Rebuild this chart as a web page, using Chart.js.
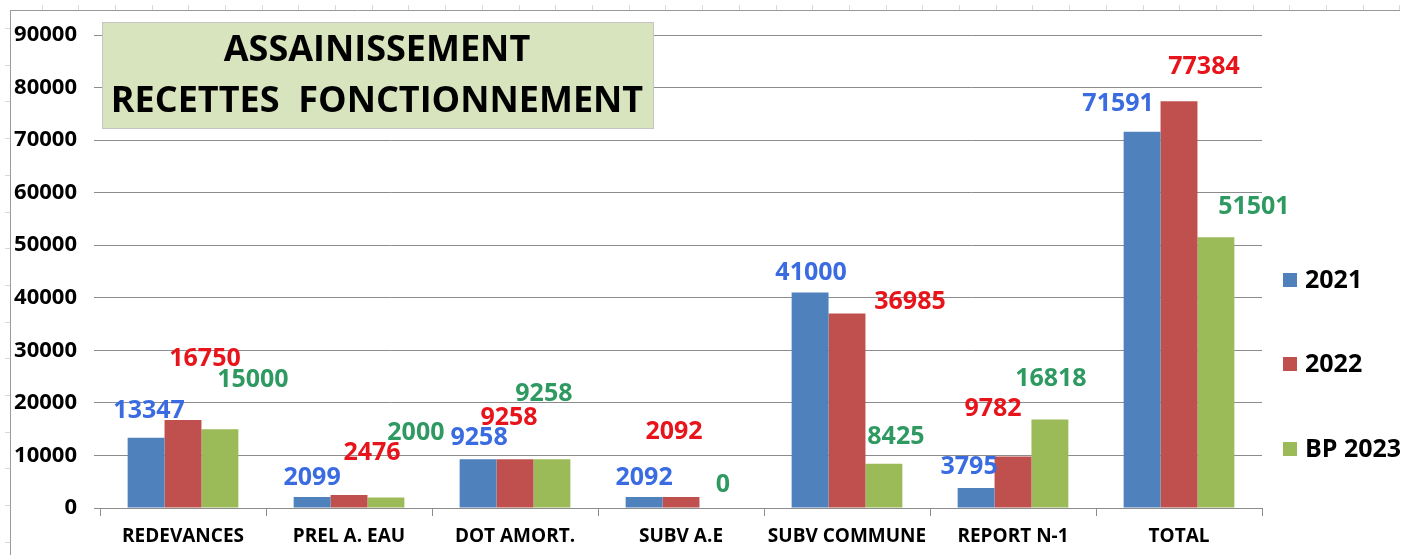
<!DOCTYPE html>
<html>
<head>
<meta charset="utf-8">
<script src="https://cdn.jsdelivr.net/npm/chart.js@4.4.1/dist/chart.umd.min.js"></script>
<style>
html,body{margin:0;padding:0;background:#fff;}
#wrap{width:1418px;height:555px;position:relative;}
</style>
</head>
<body>
<div id="wrap"><canvas id="c" width="1418" height="555"></canvas></div>
<script>
const categories = ['REDEVANCES','PREL A. EAU','DOT AMORT.','SUBV A.E','SUBV COMMUNE','REPORT N-1','TOTAL'];
const seriesNames = ['2021','2022','BP 2023'];
const values2021 = [13347,2099,9258,2092,41000,3795,71591];
const values2022 = [16750,2476,9258,2092,36985,9782,77384];
const valuesBP2023 = [15000,2000,9258,0,8425,16818,51501];
const yTicks = [0,10000,20000,30000,40000,50000,60000,70000,80000,90000];
const titleLines = ['ASSAINISSEMENT','RECETTES  FONCTIONNEMENT'];

// label offsets (px) relative to bar top, as manually placed in the original
const labelOffsets = [
  [[3,-27],[0,-19],[1,-21],[0,-19],[1,-20],[-7,-21],[-24,-28]],
  [[22,-61],[23,-42],[-6,-41],[-7,-65],[63,-12],[-20,-48],[25,-34]],
  [[33,-49],[30,-65],[-8,-65],[5,-23],[12,-27],[1,-41],[38,-30]]
];
const barColors = ['#4F81BD','#C0504D','#9BBB59'];
const labelColors = ['#3A6BE0','#E8141C','#2E9A62'];
const FONT = "'Open Sans', 'DejaVu Sans', sans-serif";

const sheetPlugin = {
  id:'sheet',
  beforeDraw(chart){
    const ctx = chart.ctx;
    ctx.save();
    ctx.strokeStyle = '#9a9a9a';
    ctx.lineWidth = 1;
    ctx.beginPath();
    ctx.moveTo(10,10.5); ctx.lineTo(1400,10.5);
    ctx.moveTo(10.5,10); ctx.lineTo(10.5,555);
    ctx.stroke();
    ctx.strokeStyle = '#d8d8d8';
    ctx.beginPath();
    for(let x=41.5;x<1400;x+=36.7){ ctx.moveTo(Math.round(x)+0.5,5); ctx.lineTo(Math.round(x)+0.5,10); }
    for(let y=28;y<555;y+=36.7){ ctx.moveTo(5,Math.round(y)+0.5); ctx.lineTo(10,Math.round(y)+0.5); }
    ctx.stroke();
    ctx.restore();
  }
};

const overlayPlugin = {
  id:'overlay',
  afterDatasetsDraw(chart){
    const ctx = chart.ctx;
    ctx.save();
    // data labels
    ctx.font = "bold 25px " + FONT;
    ctx.textAlign = 'center';
    ctx.textBaseline = 'middle';
    chart.data.datasets.forEach((ds,di)=>{
      const meta = chart.getDatasetMeta(di);
      meta.data.forEach((bar,i)=>{
        const off = labelOffsets[di][i];
        ctx.fillStyle = labelColors[di];
        ctx.fillText(String(ds.data[i]), bar.x + off[0], bar.y + off[1]);
      });
    });
    // title box
    ctx.fillStyle = '#D7E4BD';
    ctx.fillRect(102,22,551,106);
    ctx.strokeStyle = '#c4c4c4';
    ctx.lineWidth = 1;
    ctx.strokeRect(102.5,22.5,551,106);
    ctx.fillStyle = '#000';
    ctx.font = "bold 36px " + FONT;
    ctx.fillText(titleLines[0], 377, 51);
    ctx.fillText(titleLines[1], 377, 102);
    // legend
    const ys = [280,364,449];
    ctx.textAlign = 'left';
    ctx.font = "bold 25px " + FONT;
    chart.data.datasets.forEach((ds,di)=>{
      ctx.fillStyle = barColors[di];
      ctx.fillRect(1283, ys[di]-7, 14, 14);
      ctx.fillStyle = '#000';
      ctx.fillText(ds.label, 1305, ys[di]+1);
    });
    ctx.restore();
  }
};

new Chart(document.getElementById('c'), {
  type:'bar',
  data:{
    labels: categories,
    datasets:[
      {label:seriesNames[0], data:values2021, backgroundColor:barColors[0]},
      {label:seriesNames[1], data:values2022, backgroundColor:barColors[1]},
      {label:seriesNames[2], data:valuesBP2023, backgroundColor:barColors[2]}
    ]
  },
  options:{
    responsive:false,
    animation:false,
    layout:{padding:{left:0,right:156,top:35,bottom:0}},
    datasets:{bar:{barPercentage:1.0, categoryPercentage:0.667}},
    plugins:{legend:{display:false}, tooltip:{enabled:false}},
    scales:{
      x:{
        grid:{display:true, drawOnChartArea:false, drawTicks:true, tickLength:8, color:'#8c8c8c', offset:true},
        border:{display:true, color:'#8c8c8c'},
        ticks:{color:'#000', font:{family:FONT, size:19, weight:'bold'}, padding:9, maxRotation:0, autoSkip:false},
        afterFit(s){ s.height = 47; }
      },
      y:{
        min:0, max:90000,
        afterBuildTicks(s){ s.ticks = yTicks.map(v=>({value:v})); },
        grid:{color:'#8c8c8c', tickLength:6},
        border:{display:false},
        ticks:{color:'#000', font:{family:FONT, size:22, weight:'bold'}, padding:17, callback:(v)=>String(v)},
        afterFit(s){ s.width = 100; }
      }
    }
  },
  plugins:[sheetPlugin, overlayPlugin]
});
</script>
</body>
</html>
